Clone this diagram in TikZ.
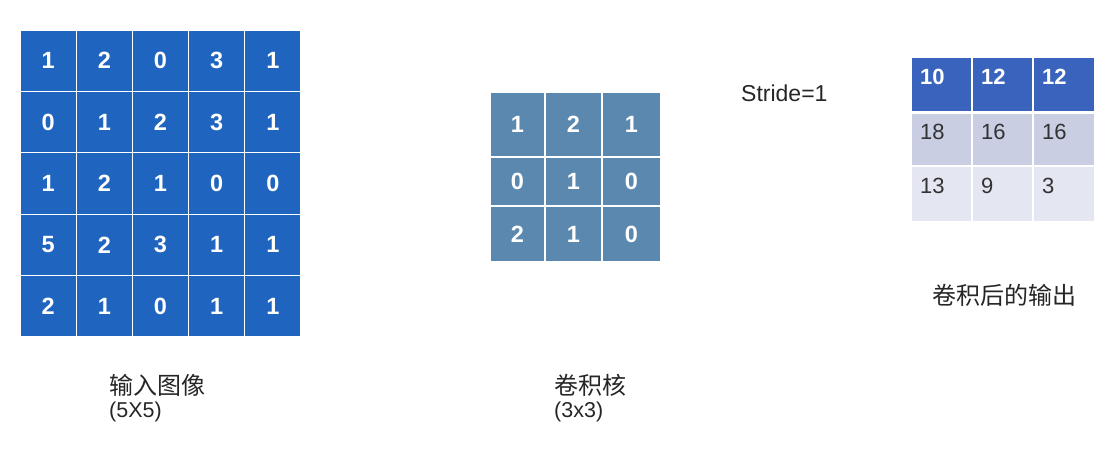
\documentclass[tikz,border=0pt]{standalone}
\usepackage{fontspec}
\setmainfont{Liberation Sans}
\newfontfamily\cjk{Noto Sans CJK SC}
\definecolor{inblue}{HTML}{1F64BE}
\definecolor{kblue}{HTML}{5B88AF}
\definecolor{oblue}{HTML}{3A63BD}
\definecolor{olav}{HTML}{C9CEE3}
\definecolor{olight}{HTML}{E4E6F2}
\definecolor{otext}{HTML}{333333}
\tikzset{
  cell/.style={draw=white, line width=1.2pt, inner sep=0pt, font=\fontsize{23.5}{23.5}\selectfont\bfseries, text=white},
  ocell/.style={draw=white, line width=1.2pt, inner sep=0pt},
  onum/.style={anchor=west, inner sep=0pt},
  lbl/.style={anchor=west, inner sep=0pt, text=black!85}
}
\begin{document}
\begin{tikzpicture}[x=1pt,y=-1pt]
\useasboundingbox (0,0) rectangle (1117,466);
% input 5x5
\foreach \row [count=\r] in {{1,2,0,3,1},{0,1,2,3,1},{1,2,1,0,0},{5,2,3,1,1},{2,1,0,1,1}}{
  \foreach \v [count=\c] in \row {
    \node[cell, fill=inblue, minimum width=56.2pt, minimum height=61.4pt]
      (in-\r-\c) at ({20+56.2*(\c-0.5)},{30+61.4*(\r-0.5)}) {\v};
  }
}
% kernel 3x3
\def\kx{{490,545,602,661}}
\def\ky{{92,157,206,262}}
\foreach \row [count=\r] in {{1,2,1},{0,1,0},{2,1,0}}{
  \foreach \v [count=\c] in \row {
    \pgfmathsetmacro{\xa}{\kx[\c-1]}\pgfmathsetmacro{\xb}{\kx[\c]}
    \pgfmathsetmacro{\ya}{\ky[\r-1]}\pgfmathsetmacro{\yb}{\ky[\r]}
    \node[cell, fill=kblue, minimum width={(\xb-\xa)*1pt}, minimum height={(\yb-\ya)*1pt}]
      (k-\r-\c) at ({(\xa+\xb)/2},{(\ya+\yb)/2}) {\v};
  }
}
% output 3x3
\def\ox{{911,972,1033,1095}}
\def\oy{{57,112,166,222}}
\foreach \row/\fc/\tc/\ft [count=\r] in {{10,12,12}/oblue/white/\bfseries,{18,16,16}/olav/otext/\relax,{13,9,3}/olight/otext/\relax}{
  \foreach \v [count=\c] in \row {
    \pgfmathsetmacro{\xa}{\ox[\c-1]}\pgfmathsetmacro{\xb}{\ox[\c]}
    \pgfmathsetmacro{\ya}{\oy[\r-1]}\pgfmathsetmacro{\yb}{\oy[\r]}
    \node[ocell, fill=\fc, minimum width={(\xb-\xa)*1pt}, minimum height={(\yb-\ya)*1pt}]
      (o-\r-\c) at ({(\xa+\xb)/2},{(\ya+\yb)/2}) {};
    \node[onum, text=\tc, font=\fontsize{22}{22}\selectfont\ft] (ot-\r-\c) at ({\xa+9},{\ya+20}) {\v};
  }
}
\draw[white, line width=3pt] (o-1-1.south west) -- (o-1-3.south east);
% labels
\node[lbl, font=\fontsize{23}{23}\selectfont] (stride) at (741,93) {Stride=1};
\node[lbl, font=\cjk\fontsize{24}{24}\selectfont] (inlbl) at (109,385) {输入图像};
\node[lbl, font=\fontsize{21.5}{21.5}\selectfont] (insz) at (109,412) {(5X5)};
\node[lbl, font=\cjk\fontsize{24}{24}\selectfont] (klbl) at (554,385) {卷积核};
\node[lbl, font=\fontsize{21.5}{21.5}\selectfont] (ksz) at (554,412) {(3x3)};
\node[lbl, font=\cjk\fontsize{24}{24}\selectfont] (olbl) at (932,295) {卷积后的输出};
\end{tikzpicture}
\end{document}
